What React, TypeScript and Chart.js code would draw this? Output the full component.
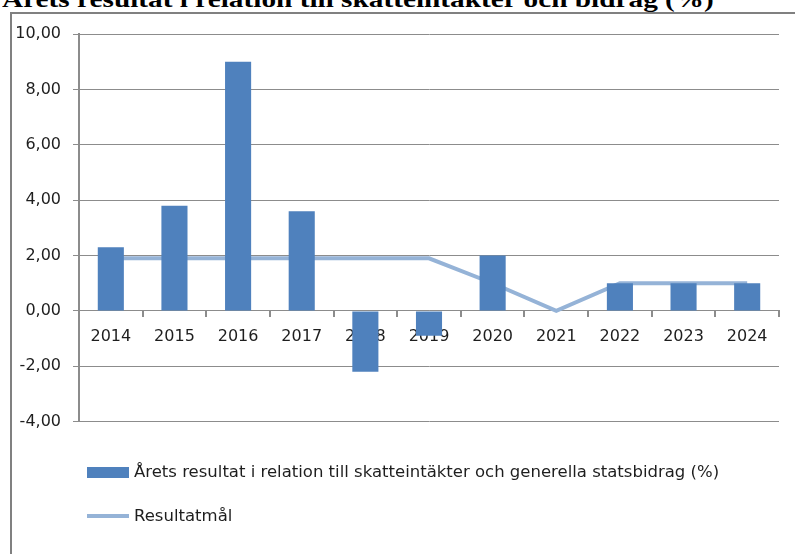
import React, { useEffect, useRef } from "react";
import { Chart, registerables } from "chart.js";

Chart.register(...registerables);

const TITLE = "Årets resultat i relation till skatteintäkter och bidrag (%)";
const YEARS = ["2014", "2015", "2016", "2017", "2018", "2019", "2020", "2021", "2022", "2023", "2024"];
const RESULT_LABEL = "Årets resultat i relation till skatteintäkter och generella statsbidrag (%)";
const RESULT_VALUES = [2.3, 3.8, 9.0, 3.6, -2.2, -0.9, 2.0, 0, 1.0, 1.0, 1.0];
const TARGET_LABEL = "Resultatmål";
const TARGET_VALUES = [1.9, 1.9, 1.9, 1.9, 1.9, 1.9, 1.0, 0, 1.0, 1.0, 1.0];
const Y_MIN = -4;
const Y_MAX = 10;
const Y_STEP = 2;

const BAR_COLOR = "#4f81bd";
const LINE_COLOR = "#95b3d7";
const GRID_COLOR = "#8c8c8c";
const TEXT_COLOR = "#1e1e1e";
const FONT = "'DejaVu Sans', sans-serif";

export default function App() {
  const canvasRef = useRef<HTMLCanvasElement | null>(null);

  useEffect(() => {
    const canvas = canvasRef.current;
    if (!canvas) return;
    const chart = new Chart(canvas, {
      type: "bar",
      data: {
        labels: YEARS,
        datasets: [
          {
            type: "bar",
            label: RESULT_LABEL,
            data: RESULT_VALUES,
            backgroundColor: BAR_COLOR,
            borderWidth: 0,
            categoryPercentage: 1,
            barPercentage: 0.41,
            order: 1,
          },
          {
            type: "line",
            label: TARGET_LABEL,
            data: TARGET_VALUES,
            borderColor: LINE_COLOR,
            backgroundColor: LINE_COLOR,
            borderWidth: 4,
            pointRadius: 0,
            tension: 0,
            fill: false,
            order: 2,
          },
        ],
      },
      options: {
        animation: false,
        responsive: false,
        devicePixelRatio: 1,
        layout: { padding: { left: 0, top: 34, right: 16, bottom: 132.3 } },
        plugins: {
          legend: { display: false },
          tooltip: { enabled: false },
          title: { display: false },
        },
        scales: {
          x: {
            type: "category",
            position: { y: 0 } as any,
            offset: true,
            z: 1,
            grid: {
              display: true,
              offset: true,
              drawOnChartArea: false,
              drawTicks: true,
              tickLength: 6,
              color: GRID_COLOR,
              lineWidth: 2,
            },
            border: { display: true, color: GRID_COLOR, width: 1 },
            ticks: {
              color: TEXT_COLOR,
              font: { family: FONT, size: 16 },
              padding: 10,
              maxRotation: 0,
              autoSkip: false,
            },
          },
          y: {
            min: Y_MIN,
            max: Y_MAX,
            afterFit: (scale: any) => {
              scale.width = 79;
            },
            grid: {
              color: GRID_COLOR,
              lineWidth: 1,
              drawTicks: true,
              tickLength: 6,
            },
            border: { display: true, color: GRID_COLOR, width: 2 },
            ticks: {
              stepSize: Y_STEP,
              color: TEXT_COLOR,
              font: { family: FONT, size: 16 },
              padding: 12,
              callback: (v: any) => Number(v).toFixed(2).replace(".", ","),
            },
          },
        },
      },
    });
    return () => chart.destroy();
  }, []);

  const legendItems = [
    { label: RESULT_LABEL, kind: "bar", color: BAR_COLOR, y: 472 },
    { label: TARGET_LABEL, kind: "line", color: LINE_COLOR, y: 516 },
  ];

  return (
    <div
      style={{
        position: "absolute",
        left: 0,
        top: 0,
        width: 795,
        height: 554,
        overflow: "hidden",
        background: "#ffffff",
      }}
    >
      <div
        style={{
          position: "absolute",
          left: 2,
          top: -12.6,
          fontFamily: "'Liberation Serif', serif",
          fontWeight: "bold",
          fontSize: 24,
          lineHeight: "24px",
          whiteSpace: "nowrap",
          color: "#000",
          transform: "scaleX(1.22)",
          transformOrigin: "left top",
        }}
      >
        {TITLE}
      </div>
      <div
        style={{
          position: "absolute",
          left: 10,
          top: 12,
          width: 820,
          height: 600,
          borderLeft: `2px solid #808080`,
          borderTop: `2px solid #808080`,
          boxSizing: "border-box",
        }}
      />
      <canvas
        ref={canvasRef}
        width={795}
        height={554}
        style={{ position: "absolute", left: 0, top: 0, width: 795, height: 554 }}
      />
      {legendItems.map((it) => (
        <div key={it.label}>
          <div
            style={{
              position: "absolute",
              left: 87,
              width: 42,
              top: it.kind === "bar" ? it.y - 5.5 : it.y - 2,
              height: it.kind === "bar" ? 11 : 4,
              background: it.color,
            }}
          />
          <div
            style={{
              position: "absolute",
              left: 134,
              top: it.y - 11,
              height: 22,
              lineHeight: "22px",
              fontFamily: FONT,
              fontSize: 16.5,
              color: TEXT_COLOR,
              whiteSpace: "nowrap",
            }}
          >
            {it.label}
          </div>
        </div>
      ))}
    </div>
  );
}
